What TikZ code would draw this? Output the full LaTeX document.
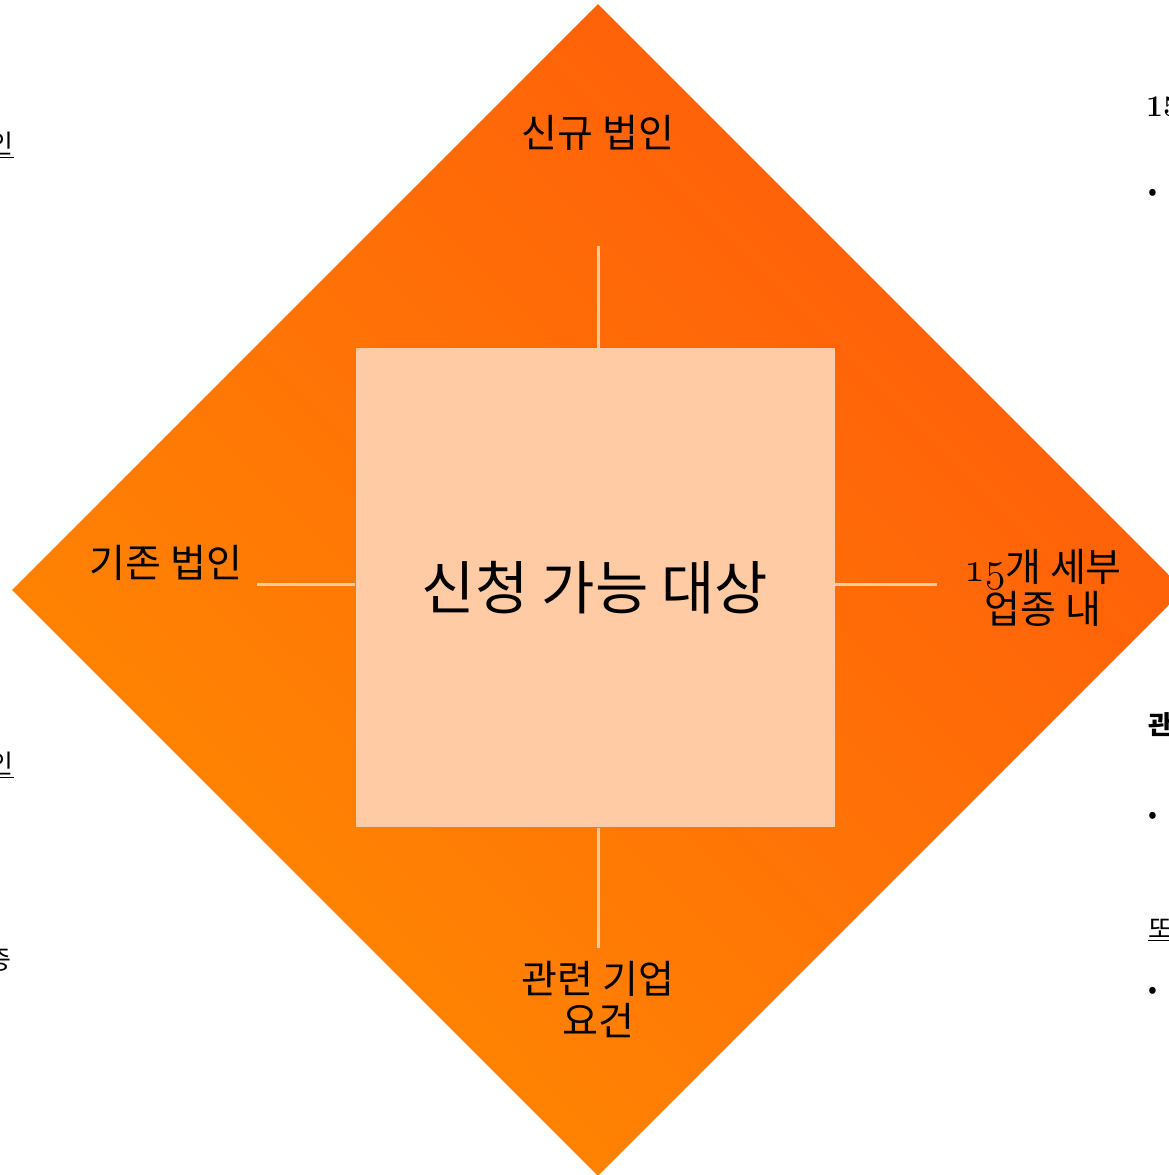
\documentclass[tikz,border=0pt]{standalone}
\usepackage{fontspec}
\usepackage{xcolor}
\newfontfamily\kr{Noto Sans CJK KR}
\usetikzlibrary{shapes.geometric}
\usetikzlibrary{shadings}
\definecolor{fieldlow}{HTML}{FF9300}
\definecolor{fieldmid}{HTML}{FF7206}
\definecolor{fieldhigh}{HTML}{FF520C}
\definecolor{peach}{HTML}{FFCBA4}
\newcommand\oldnum[1]{\scalebox{1.7}{\fontsize{24.88}{30}\usefont{OML}{cmm}{m}{it}#1}}

\begin{document}
\begin{tikzpicture}[x=1pt,y=1pt,
		lbl/.style={font=\kr\fontsize{39}{42}\selectfont, align=center, inner sep=0pt},
		frag/.style={font=\kr\fontsize{26}{30}\selectfont, inner sep=0pt},
		spoke/.style={draw=peach, line width=3pt}]
			\useasboundingbox (0,0) rectangle (1168,1175);
			\node[diamond, aspect=1, inner sep=0pt, minimum width=1172pt, minimum height=1172pt, lower left=fieldlow, upper right=fieldhigh, upper left=fieldmid, lower right=fieldmid] (field) at (598,585) {};
			\node[fill=peach, minimum size=479pt, inner sep=0pt, font=\kr\fontsize{58}{64}\selectfont] (target) at (595,587) {신청 가능 대상};

			\node[lbl] (t1) at (598,1042) {신규 법인};
			\node[lbl] (t2) at (166,612) {기존 법인};
			\node[lbl] (t3) at (1043,587) {\oldnum{15}개 세부\\업종 내};
			\node[lbl] (t4) at (598,175) {관련 기업\\요건};

			\coordinate (e1) at (598,929);
			\coordinate (e2) at (257,590);
			\coordinate (e3) at (937,590);
			\coordinate (e4) at (598,227);

			%% lines
			\draw[spoke] (e1) -- (e1 |- target.north);
			\draw[spoke] (e2) -- (e2 -| target.west);
			\draw[spoke] (e3) -- (e3 -| target.east);
			\draw[spoke] (e4) -- (e4 |- target.south);

			%% cut-off text at the sides
			\node[frag, anchor=east] (l1) at (14,1030) {\underline{인}};
			\node[frag, anchor=east] (l2) at (14,410) {\underline{인}};
			\node[frag, anchor=east] (l3) at (12,215) {증};
			\node[frag, anchor=west, font=\bfseries\fontsize{30}{34}\selectfont] (r1) at (1146,1068) {15};
			\node[frag, anchor=west] (r2) at (1148,980) {\textbullet};
			\node[frag, anchor=west, font=\kr\bfseries\fontsize{26}{30}\selectfont] (r3) at (1148,450) {관};
			\node[frag, anchor=west] (r4) at (1148,357) {\textbullet};
			\node[frag, anchor=west] (r5) at (1148,245) {\underline{또}};
			\node[frag, anchor=west] (r6) at (1148,182) {\textbullet};
		\end{tikzpicture}
\end{document}
